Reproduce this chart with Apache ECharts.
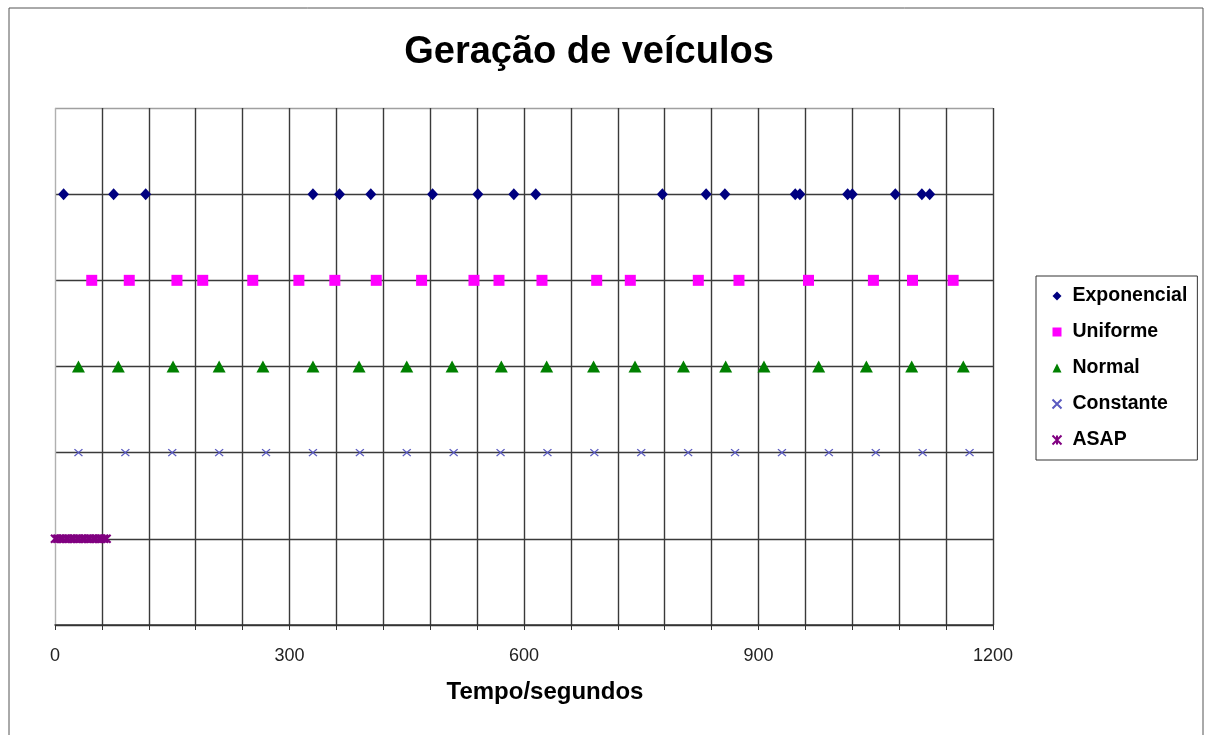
<!DOCTYPE html>
<html>
<head>
<meta charset="utf-8">
<script src="https://cdn.jsdelivr.net/npm/echarts@6/dist/echarts.min.js"></script>
<style>
html,body{margin:0;padding:0;background:#fff;}
#chart{width:1205px;height:735px;}
</style>
</head>
<body>
<div id="chart"></div>
<script>
// ---- data ----
var seriesNames = ['Exponencial', 'Uniforme', 'Normal', 'Constante', 'ASAP'];
var seriesLevels = [5, 4, 3, 2, 1];
var exponencial = [11, 75, 116, 330, 364, 404, 483, 541, 587, 615, 777, 833, 857, 947, 953, 1014, 1020, 1075, 1109, 1119];
var uniforme = [47, 95, 156, 189, 253, 312, 358, 411, 469, 536, 568, 623, 693, 736, 823, 875, 964, 1047, 1097, 1149];
var normal = [30, 81, 151, 210, 266, 330, 389, 450, 508, 571, 629, 689, 742, 804, 858, 907, 977, 1038, 1096, 1162];
var constante = [30, 90, 150, 210, 270, 330, 390, 450, 510, 570, 630, 690, 750, 810, 870, 930, 990, 1050, 1110, 1170];
var asap = [0, 3, 7, 10, 14, 17, 21, 24, 28, 31, 35, 38, 42, 45, 49, 52, 56, 59, 63, 66];
var xTickLabels = [0, 300, 600, 900, 1200];

var allData = [exponencial, uniforme, normal, constante, asap];
function pts(arr, lvl) { return arr.map(function (x) { return [x, lvl]; }); }

var chart = echarts.init(document.getElementById('chart'));
var FONT = 'Liberation Sans, Arial, sans-serif';

var vColors = ['#b0b0b0'];
for (var i = 0; i < 20; i++) vColors.push('#3a3a3a');
var hColors = ['#3a3a3a', '#3a3a3a', '#3a3a3a', '#3a3a3a', '#3a3a3a', '#3a3a3a', '#a0a0a0'];

var styles = [
  { symbol: 'diamond', symbolSize: [11, 12], itemStyle: { color: '#000080', opacity: 1 } },
  { symbol: 'rect', symbolSize: 11, itemStyle: { color: '#ff00ff', opacity: 1 } },
  { symbol: 'triangle', symbolSize: [13, 12], itemStyle: { color: '#008000', opacity: 1 } },
  { symbol: 'path://M0,0L10,10M10,0L0,10', symbolSize: [8, 7], itemStyle: { color: 'none', borderColor: '#5a5ac0', borderWidth: 1.3, opacity: 1 } },
  { symbol: 'path://M0,0L10,10M10,0L0,10M5,0L5,10', symbolSize: [8, 8], itemStyle: { color: 'none', borderColor: '#800080', borderWidth: 2.2, opacity: 1 } }
];

var series = seriesNames.map(function (name, k) {
  return {
    name: name,
    type: 'scatter',
    data: pts(allData[k], seriesLevels[k]),
    symbol: styles[k].symbol,
    symbolSize: styles[k].symbolSize,
    itemStyle: styles[k].itemStyle,
    emphasis: { disabled: true },
    z: 5
  };
});

chart.setOption({
  animation: false,
  backgroundColor: '#ffffff',
  graphic: [
    { type: 'rect', shape: { x: 9, y: 8, width: 1194, height: 800 }, style: { fill: 'none', stroke: '#555', lineWidth: 1 }, silent: true, z: -10 },
    { type: 'text', x: 589, y: 53, style: { text: 'Geração de veículos', font: 'bold 38px ' + FONT, fill: '#000', align: 'center', verticalAlign: 'middle' }, silent: true }
  ],
  grid: { left: 55, right: 212, top: 108, bottom: 110, containLabel: false },
  legend: {
    orient: 'vertical',
    left: 1036,
    top: 276,
    data: seriesNames,
    borderColor: '#333',
    borderWidth: 1,
    padding: [10, 10, 10, 14],
    itemGap: 16,
    itemWidth: 9,
    itemHeight: 9,
    selectedMode: false,
    textStyle: { fontFamily: FONT, fontSize: 19.5, fontWeight: 'bold', color: '#000', padding: [0, 0, 0, 6] }
  },
  xAxis: {
    type: 'value',
    min: 0,
    max: 1200,
    interval: 60,
    name: 'Tempo/segundos',
    nameLocation: 'middle',
    nameGap: 55,
    nameTextStyle: { fontFamily: FONT, fontSize: 24, fontWeight: 'bold', color: '#000', padding: [0, 0, 0, 42] },
    axisLine: { show: true, lineStyle: { color: '#333', width: 1.5 } },
    axisTick: { show: true, length: 5, inside: false, lineStyle: { color: '#333' } },
    axisLabel: {
      margin: 22,
      fontFamily: FONT,
      fontSize: 18,
      color: '#222',
      formatter: function (v) { return xTickLabels.indexOf(v) >= 0 ? String(v) : ''; }
    },
    splitLine: { show: true, lineStyle: { color: vColors, width: 1.4 } }
  },
  yAxis: {
    type: 'value',
    min: 0,
    max: 6,
    interval: 1,
    axisLine: { show: false },
    axisTick: { show: false },
    axisLabel: { show: false },
    splitLine: { show: true, lineStyle: { color: hColors, width: 1.4 } }
  },
  series: series
});
</script>
</body>
</html>
